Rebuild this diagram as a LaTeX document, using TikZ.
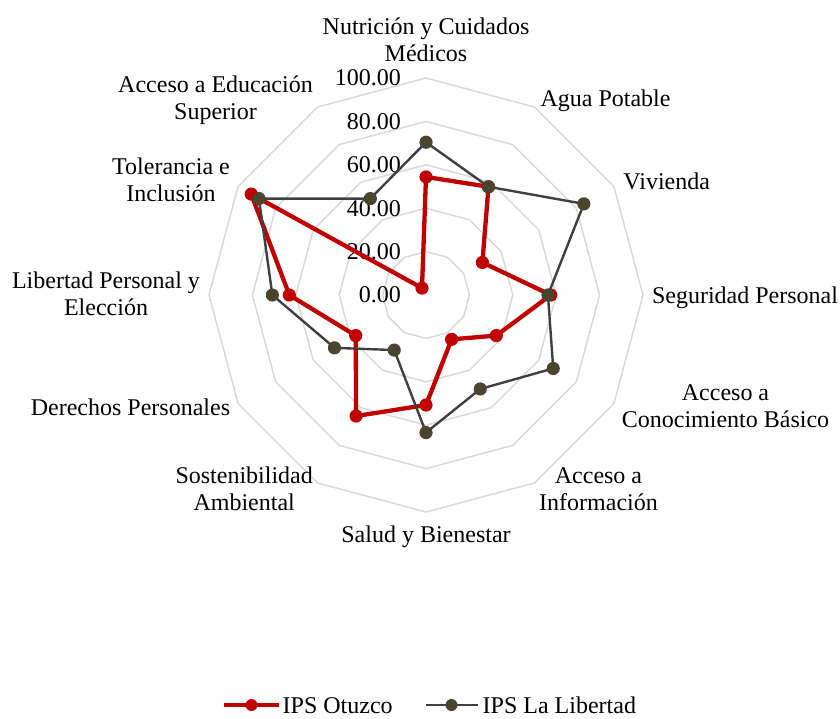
\documentclass[tikz,border=0pt]{standalone}
\usepackage{fontspec}
\setmainfont{Liberation Serif}
\definecolor{ringgray}{RGB}{217,217,217}
\definecolor{serred}{RGB}{192,0,0}
\definecolor{serline}{RGB}{64,64,64}
\definecolor{sermark}{RGB}{74,69,46}
\begin{document}
\begin{tikzpicture}[x=1pt,y=-1pt,
  ring/.style={draw=ringgray,line width=1.5pt,line join=round},
  redser/.style={draw=serred,line width=4.3pt,line join=round,line cap=round},
  blkser/.style={draw=serline,line width=2.4pt,line join=round,line cap=round},
  lab/.style={font=\fontsize{24}{27}\selectfont,align=center,inner sep=0pt,anchor=north,
              execute at begin node={\rule{0pt}{18pt}}},
  vallab/.style={font=\fontsize{24}{27}\selectfont,inner sep=0pt,anchor=east},
  legtext/.style={font=\fontsize{24}{27}\selectfont,inner sep=0pt,anchor=base west}]
\useasboundingbox (0,0) rectangle (840,718);
\def\cx{426}
\def\cy{295}
\def\ur{2.17}
% rings
\foreach \k in {1,...,5}{
  \draw[ring] ({\cx},{\cy-\k*43.4})
    \foreach \i in {1,...,11}{ -- ({\cx+\k*43.4*sin(\i*30)},{\cy-\k*43.4*cos(\i*30)}) } -- cycle;
}
% value labels
\node[vallab] (v0) at (401,{\cy}) {0.00};
\node[vallab] (v1) at (401,{\cy-43.4}) {20.00};
\node[vallab] (v2) at (401,{\cy-86.8}) {40.00};
\node[vallab] (v3) at (401,{\cy-130.2}) {60.00};
\node[vallab] (v4) at (401,{\cy-173.6}) {80.00};
\node[vallab] (v5) at (401,{\cy-217}) {100.00};
% data coordinates
\foreach \v [count=\i from 0] in {54.4,57.6,30,57.5,37.4,23.6,50.7,64.4,37.4,63,93,3.7}
  \coordinate (r\i) at ({\cx+\ur*\v*sin(\i*30)},{\cy-\ur*\v*cos(\i*30)});
\foreach \v [count=\i from 0] in {70.4,57.6,84,56.2,67.7,50,63.4,29.3,48.7,70.8,88.9,51.3}
  \coordinate (b\i) at ({\cx+\ur*\v*sin(\i*30)},{\cy-\ur*\v*cos(\i*30)});
% red series
\draw[redser] (r0) -- (r1) -- (r2) -- (r3) -- (r4) -- (r5) -- (r6) -- (r7) -- (r8) -- (r9) -- (r10) -- (r11) -- cycle;
\foreach \i in {0,...,11} \fill[serred] (r\i) circle (6.6pt);
% black series
\draw[blkser] (b0) -- (b1) -- (b2) -- (b3) -- (b4) -- (b5) -- (b6) -- (b7) -- (b8) -- (b9) -- (b10) -- (b11) -- cycle;
\foreach \i in {0,...,11} \fill[sermark] (b\i) circle (6.6pt);
% category labels
\node[lab] (c0) at (426,17.7) {Nutrición y Cuidados\\Médicos};
\node[lab] (c1) at (605.5,88.7) {Agua Potable};
\node[lab] (c2) at (666.7,171.3) {Vivienda};
\node[lab] (c3) at (745,285.3) {Seguridad Personal};
\node[lab] (c4) at (725.5,384.3) {Acceso a\\Conocimiento Básico};
\node[lab] (c5) at (598.5,467) {Acceso a\\Información};
\node[lab] (c6) at (426,524.7) {Salud y Bienestar};
\node[lab] (c7) at (244.2,467) {Sostenibilidad\\Ambiental};
\node[lab] (c8) at (130.5,397.7) {Derechos Personales};
\node[lab] (c9) at (106,271.3) {Libertad Personal y\\Elección};
\node[lab] (c10) at (171,158) {Tolerancia e\\Inclusión};
\node[lab] (c11) at (215.5,75.3) {Acceso a Educación\\Superior};
% legend
\coordinate (la) at (224,705);
\coordinate (lb) at (279,705);
\coordinate (lm) at (251.5,705);
\draw[redser,line cap=butt] (la) -- (lb);
\fill[serred] (lm) circle (6pt);
\node[legtext] (lt1) at (282.5,713.5) {IPS Otuzco};
\coordinate (ka) at (425.5,705);
\coordinate (kb) at (477.5,705);
\coordinate (km) at (451.5,705);
\draw[blkser,line cap=butt] (ka) -- (kb);
\fill[sermark] (km) circle (6pt);
\node[legtext] (lt2) at (482.5,713.5) {IPS La Libertad};
\end{tikzpicture}
\end{document}
